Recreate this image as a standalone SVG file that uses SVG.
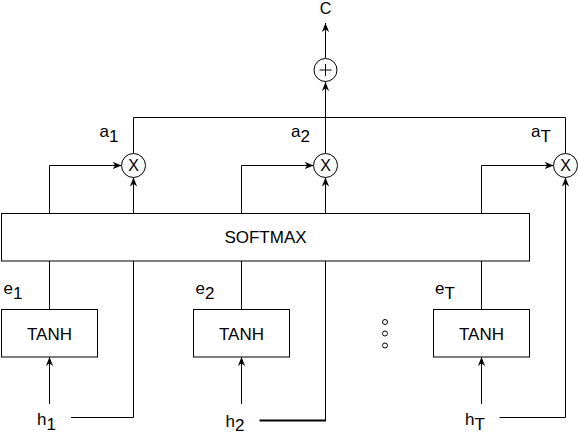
<svg xmlns="http://www.w3.org/2000/svg" width="578" height="434" viewBox="0 0 578 434">
<style>
.box{fill:#fff;stroke:#000;stroke-width:1}
.ln{fill:none;stroke:#000;stroke-width:1}
.t{font-family:"Liberation Sans",Arial,sans-serif;font-size:16px;fill:#000}
.lb{font-family:"Liberation Sans",Arial,sans-serif;font-size:17px;fill:#000}
.big{font-family:"Liberation Sans",Arial,sans-serif;font-size:17px;fill:#000}
</style>
<defs>
<marker id="arr" viewBox="0 0 10 8" refX="10" refY="4" markerWidth="9" markerHeight="7.5" markerUnits="userSpaceOnUse" orient="auto">
<path d="M0,0 L10,4 L0,8 L3,4 Z" fill="#000"/>
</marker>
</defs>
<rect width="578" height="434" fill="#fff"/>
<g id="connectors">
<path class="ln" d="M325.5,58 V23" marker-end="url(#arr)"/>
<path class="ln" d="M133.5,153.5 V117.5 H565.5 V153.5"/>
<path class="ln" d="M325.5,153.5 V82" marker-end="url(#arr)"/>
<path class="ln" d="M49.5,213.5 V165.5 H121.5" marker-end="url(#arr)"/>
<path class="ln" d="M241.5,213.5 V165.5 H313.5" marker-end="url(#arr)"/>
<path class="ln" d="M481.5,213.5 V165.5 H553.5" marker-end="url(#arr)"/>
<path class="ln" d="M133.5,213.5 V177.5" marker-end="url(#arr)"/>
<path class="ln" d="M325.5,213.5 V177.5" marker-end="url(#arr)"/>
<path class="ln" d="M499.5,417.5 H565.5 V177.5" marker-end="url(#arr)"/>
<path class="ln" d="M49.5,309.5 V261"/>
<path class="ln" d="M241.5,309.5 V261"/>
<path class="ln" d="M481.5,309.5 V261"/>
<path class="ln" d="M133.5,261 V417.5 H71"/>
<path class="ln" d="M325.5,261 V420"/>
<path fill="none" stroke="#000" stroke-width="2" d="M326,420.5 H259.5"/>
<path class="ln" d="M49.5,404 V357" marker-end="url(#arr)"/>
<path class="ln" d="M241.5,404 V357" marker-end="url(#arr)"/>
<path class="ln" d="M481.5,404 V357" marker-end="url(#arr)"/>
</g>
<g id="out-c"><text class="t" x="325.5" y="13.5" text-anchor="middle">C</text></g>
<g id="sum">
<circle class="box" cx="325.5" cy="70" r="11.5"/>
<path class="ln" d="M319.5,70 H331.5 M325.5,64 V76" stroke-width="1.6"/>
</g>
<g id="mul1">
<circle class="box" cx="133.5" cy="165.5" r="12"/>
<text class="t" x="133.5" y="171" text-anchor="middle">X</text>
</g>
<g id="mul2">
<circle class="box" cx="325.5" cy="165.5" r="12"/>
<text class="t" x="325.5" y="171" text-anchor="middle">X</text>
</g>
<g id="mulT">
<circle class="box" cx="565.5" cy="165.5" r="12"/>
<text class="t" x="565.5" y="171" text-anchor="middle">X</text>
</g>
<g id="softmax">
<rect class="box" x="1.5" y="213.5" width="528" height="47.5"/>
<text class="big" x="265.5" y="243" text-anchor="middle">SOFTMAX</text>
</g>
<g id="tanh1">
<rect class="box" x="1.5" y="309.5" width="96" height="47.5"/>
<text class="big" x="49.5" y="339.5" text-anchor="middle">TANH</text>
</g>
<g id="tanh2">
<rect class="box" x="193.5" y="309.5" width="96" height="47.5"/>
<text class="big" x="241.5" y="339.5" text-anchor="middle">TANH</text>
</g>
<g id="tanhT">
<rect class="box" x="433.5" y="309.5" width="96" height="47.5"/>
<text class="big" x="481.5" y="339.5" text-anchor="middle">TANH</text>
</g>
<g id="dots">
<circle class="box" cx="385" cy="322" r="2.5"/>
<circle class="box" cx="385" cy="333.5" r="2.5"/>
<circle class="box" cx="385" cy="345.5" r="2.5"/>
</g>
<g id="labels">
<text class="lb" x="99.5" y="137">a<tspan dy="5">1</tspan></text>
<text class="lb" x="291" y="137">a<tspan dy="5">2</tspan></text>
<text class="lb" x="531" y="137">a<tspan dy="5">T</tspan></text>
<text class="lb" x="3.5" y="294">e<tspan dy="5">1</tspan></text>
<text class="lb" x="195.5" y="294">e<tspan dy="5">2</tspan></text>
<text class="lb" x="435" y="294">e<tspan dy="5">T</tspan></text>
<text class="lb" x="37" y="425">h<tspan dy="5">1</tspan></text>
<text class="lb" x="225.5" y="427">h<tspan dy="4">2</tspan></text>
<text class="lb" x="465" y="425">h<tspan dy="5">T</tspan></text>
</g>
</svg>
